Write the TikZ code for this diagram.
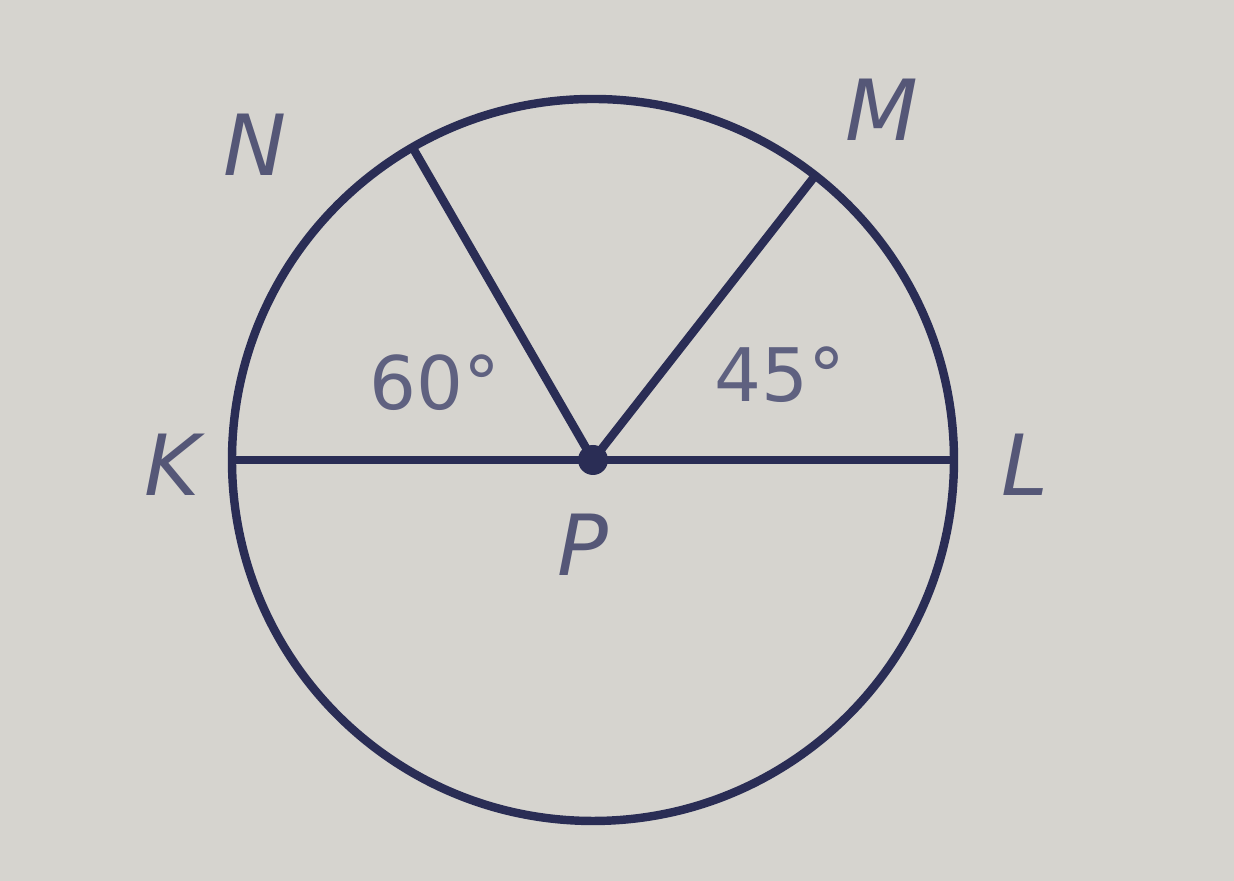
\documentclass[tikz,border=0pt]{standalone}
\usepackage{fontspec}
\setmainfont{DejaVu Sans}
\usetikzlibrary{calc}
\definecolor{ink}{RGB}{42,45,85}
\definecolor{paper}{RGB}{214,212,207}
\begin{document}
\begin{tikzpicture}[line width=2.4pt,
    lbl/.style={ink!80, font=\fontsize{24}{24}\selectfont\itshape},
    ang/.style={ink!75, font=\fontsize{21}{21}\selectfont}]
    % Background
    \fill[paper] (0,0) rectangle (12.34,8.81);
    \useasboundingbox (0,0) rectangle (12.34,8.81);

    % Circle and points
    \coordinate (P) at (5.93,4.21);
    \draw[ink] (P) circle (3.61);
    \coordinate (K) at ($(P)+(180:3.61)$);
    \coordinate (L) at ($(P)+(0:3.61)$);
    \coordinate (M) at ($(P)+(52:3.61)$);
    \coordinate (N) at ($(P)+(120:3.61)$);

    % Diameter and radii
    \draw[ink] (K) -- (L);
    \draw[ink] (P) -- (M);
    \draw[ink] (P) -- (N);
    \fill[ink] (P) circle (0.15);

    % Labels
    \node[lbl] (lN) at (2.55,7.36) {N};
    \node[lbl] (lM) at (8.82,7.71) {M};
    \node[lbl] (lK) at (1.72,4.16) {K};
    \node[lbl] (lL) at (10.25,4.16) {L};
    \node[lbl] (lP) at (5.83,3.36) {P};
    \node[ang] (a60) at (4.35,4.98) {60°};
    \node[ang] (a45) at (7.80,5.06) {45°};
\end{tikzpicture}
\end{document}
